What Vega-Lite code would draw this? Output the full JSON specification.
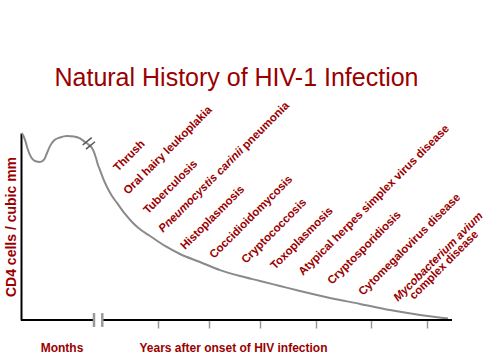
{
  "$schema": "https://vega.github.io/schema/vega-lite/v6.json",
  "width": 431,
  "height": 187,
  "autosize": {"type": "none"},
  "padding": {"left": 21, "top": 133, "right": 52, "bottom": 38},
  "background": "white",
  "title": {
    "text": "Natural History of HIV-1 Infection",
    "font": "Liberation Sans",
    "fontSize": 25,
    "fontWeight": "normal",
    "color": "#9A0000",
    "anchor": "middle",
    "frame": "group",
    "baseline": "alphabetic",
    "offset": -11
  },
  "config": {"view": {"stroke": null}, "axis": {"grid": false}},
  "datasets": {
    "curve": [
      {"t": 0.07, "cd4": 1000}, {"t": 0.2, "cd4": 989}, {"t": 0.4, "cd4": 963}, {"t": 0.7, "cd4": 909},
      {"t": 1.0, "cd4": 872}, {"t": 1.4, "cd4": 850}, {"t": 1.9, "cd4": 845}, {"t": 2.3, "cd4": 858},
      {"t": 2.6, "cd4": 893}, {"t": 2.9, "cd4": 930}, {"t": 3.3, "cd4": 960}, {"t": 3.9, "cd4": 976},
      {"t": 4.6, "cd4": 984}, {"t": 5.3, "cd4": 981}, {"t": 5.9, "cd4": 971}, {"t": 6.4, "cd4": 952},
      {"t": 6.8, "cd4": 936}, {"t": 7.1, "cd4": 920}, {"t": 7.3, "cd4": 898}, {"t": 7.5, "cd4": 866},
      {"t": 7.7, "cd4": 829}, {"t": 7.9, "cd4": 802}, {"t": 8.2, "cd4": 759}, {"t": 8.6, "cd4": 711},
      {"t": 9.1, "cd4": 663}, {"t": 9.6, "cd4": 626}, {"t": 10.4, "cd4": 567}, {"t": 11.2, "cd4": 519},
      {"t": 12.0, "cd4": 481}, {"t": 12.9, "cd4": 449}, {"t": 14.4, "cd4": 396}, {"t": 15.9, "cd4": 353},
      {"t": 17.9, "cd4": 310}, {"t": 19.9, "cd4": 267}, {"t": 21.9, "cd4": 235}, {"t": 23.9, "cd4": 209},
      {"t": 25.9, "cd4": 182}, {"t": 27.9, "cd4": 155}, {"t": 30.9, "cd4": 118}, {"t": 33.9, "cd4": 86},
      {"t": 36.9, "cd4": 53}, {"t": 39.9, "cd4": 27}, {"t": 42.2, "cd4": 11}, {"t": 42.7, "cd4": 8}
    ],
    "slashes": [
      {"t": 6.17, "cd4": 936, "t2": 7.07, "cd42": 975},
      {"t": 6.5, "cd4": 914, "t2": 7.4, "cd42": 953}
    ],
    "axisline": [
      {"t": 0, "t2": 7.3, "cd4": 0},
      {"t": 8.1, "t2": 43.1, "cd4": 0}
    ],
    "breaks": [
      {"t": 7.3, "cd4": -37, "cd42": 37},
      {"t": 8.13, "cd4": -37, "cd42": 37}
    ],
    "labels": [
      {"t": 9.7, "cd4": 791, "label": "Thrush", "kind": "disease"},
      {"t": 10.7, "cd4": 668, "label": "Oral hairy leukoplakia", "kind": "disease"},
      {"t": 12.7, "cd4": 564, "label": "Tuberculosis", "kind": "disease"},
      {"t": 14.2, "cd4": 465, "label": "Pneumocystis carinii", "kind": "organism"},
      {"t": 22.54, "cd4": 911, "label": "pneumonia", "kind": "disease"},
      {"t": 16.4, "cd4": 374, "label": "Histoplasmosis", "kind": "disease"},
      {"t": 19.3, "cd4": 326, "label": "Coccidioidomycosis", "kind": "disease"},
      {"t": 22.5, "cd4": 299, "label": "Cryptococcosis", "kind": "disease"},
      {"t": 25.4, "cd4": 267, "label": "Toxoplasmosis", "kind": "disease"},
      {"t": 28.2, "cd4": 235, "label": "Atypical herpes simplex virus disease", "kind": "disease"},
      {"t": 31.1, "cd4": 187, "label": "Cryptosporidiosis", "kind": "disease"},
      {"t": 34.2, "cd4": 128, "label": "Cytomegalovirus disease", "kind": "disease"},
      {"t": 37.7, "cd4": 96, "label": "Mycobacterium avium", "kind": "organism"},
      {"t": 39.3, "cd4": 107, "label": "complex disease", "kind": "disease"}
    ]
  },
  "encoding": {
    "x": {
      "field": "t", "type": "quantitative",
      "scale": {"domain": [0, 43.1], "nice": false, "zero": false},
      "axis": {
        "title": null,
        "domain": false,
        "grid": false,
        "values": [4.05, 13.7, 18.8, 21.2, 23.9, 29.5, 35.0, 40.6],
        "tickSize": 8,
        "tickWidth": 1.5,
        "tickColor": "#999999",
        "tickOpacity": {"condition": {"test": "datum.value < 5 || (datum.value > 21 && datum.value < 22)", "value": 0}, "value": 1},
        "labelExpr": "datum.value < 5 ? 'Months' : (datum.value > 21 && datum.value < 22) ? 'Years after onset of HIV infection' : ''",
        "labelFont": "Liberation Sans",
        "labelFontSize": 12,
        "labelFontWeight": "bold",
        "labelColor": "#9A0000",
        "labelBaseline": "alphabetic",
        "labelPadding": 23,
        "labelLimit": 0,
        "labelOverlap": false,
        "labelFlush": false,
        "labelBound": false
      }
    },
    "y": {
      "field": "cd4", "type": "quantitative",
      "scale": {"domain": [0, 1000], "nice": false, "zero": false},
      "axis": {
        "title": "CD4 cells / cubic mm",
        "titleFont": "Liberation Sans",
        "titleFontSize": 14,
        "titleFontWeight": "bold",
        "titleColor": "#9A0000",
        "titlePadding": 3,
        "domain": true,
        "domainColor": "#000000",
        "domainWidth": 2,
        "ticks": false,
        "labels": false,
        "grid": false
      }
    }
  },
  "layer": [
    {
      "data": {"name": "curve"},
      "mark": {"type": "line", "color": "#8a8a8a", "strokeWidth": 2, "interpolate": "monotone"}
    },
    {
      "data": {"name": "slashes"},
      "mark": {"type": "rule", "color": "#555555", "strokeWidth": 1.5},
      "encoding": {
        "x2": {"field": "t2"},
        "y2": {"field": "cd42"}
      }
    },
    {
      "data": {"name": "axisline"},
      "mark": {"type": "rule", "color": "#000000", "strokeWidth": 2},
      "encoding": {
        "x2": {"field": "t2"}
      }
    },
    {
      "data": {"name": "breaks"},
      "mark": {"type": "rule", "color": "#999999", "strokeWidth": 2.5},
      "encoding": {
        "y2": {"field": "cd42"}
      }
    },
    {
      "data": {"name": "labels"},
      "transform": [{"filter": "datum.kind === 'disease'"}],
      "mark": {"type": "text", "angle": -45, "align": "left", "baseline": "alphabetic", "font": "Liberation Sans", "fontSize": 11.5, "fontWeight": "bold", "color": "#9A0000"},
      "encoding": {
        "text": {"field": "label"}
      }
    },
    {
      "data": {"name": "labels"},
      "transform": [{"filter": "datum.kind === 'organism'"}],
      "mark": {"type": "text", "angle": -45, "align": "left", "baseline": "alphabetic", "font": "Liberation Sans", "fontSize": 11.5, "fontWeight": "bold", "fontStyle": "italic", "color": "#9A0000"},
      "encoding": {
        "text": {"field": "label"}
      }
    }
  ]
}
